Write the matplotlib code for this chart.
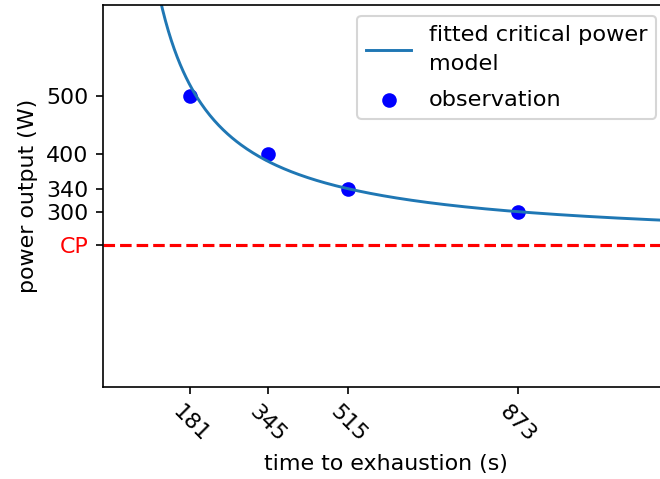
import numpy as np
import matplotlib
matplotlib.use("Agg")
import matplotlib.pyplot as plt

plt.rcParams['font.size'] = 10.6

# observed time to exhaustion (s) and power output (W)
times = [181, 345, 515, 873]
powers = [500, 400, 340, 300]

# critical power model: work = CP * t + W'
work = np.array(times) * np.array(powers)
cp, w_prime = np.polyfit(times, work, 1)

t_fit = np.linspace(50, 1300, 400)
p_fit = cp + w_prime / t_fit

fig = plt.figure(figsize=(4.4, 479 / 150), dpi=150)
ax = fig.add_axes([0.1565, 0.1925, 0.855, 0.798])

ax.plot(t_fit, p_fit, lw=1.4, label='fitted critical power\nmodel')
ax.scatter(times, powers, color='blue', label='observation')
ax.axhline(cp, color='red', linestyle='--')

ax.set_xlim(-3, 1190)
ax.set_ylim(0, 657)

ax.set_xticks(times)
ax.set_xticklabels([str(t) for t in times], rotation=-45)
yt = [cp] + sorted(powers)
ax.set_yticks(yt)
ax.set_yticklabels(['CP'] + [str(p) for p in sorted(powers)])
ax.get_yticklabels()[0].set_color('red')

ax.set_xlabel('time to exhaustion (s)')
ax.set_ylabel('power output (W)')
leg = ax.legend(loc='upper right', fontsize=10.75, handlelength=2.0,
                labelspacing=0.7)
for txt in leg.get_texts():
    txt.set_linespacing(1.6)

fig.savefig('out.png', dpi=150)
